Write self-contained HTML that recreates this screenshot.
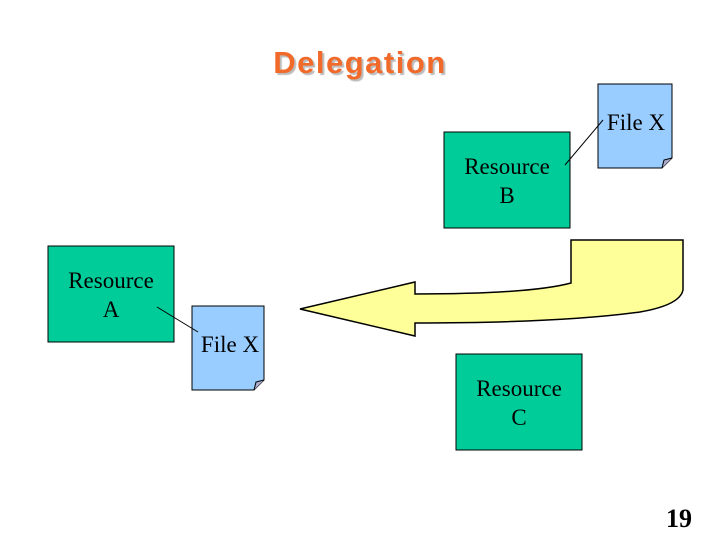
<!DOCTYPE html>
<html><head><style>
body{margin:0;width:720px;height:540px;background:#fff;position:relative;overflow:hidden;font-family:"Liberation Serif",serif}
.t{position:absolute;left:0;width:720px;text-align:center;top:45px;font:bold 31px "Liberation Sans",sans-serif;letter-spacing:1.5px;color:#f26a2a;text-shadow:2px 2px 1px #bbb}
.lbl{position:absolute;text-align:center;font-size:23px;line-height:29px;color:#000}
</style></head><body>
<div class="t">Delegation</div>
<svg width="720" height="540" style="position:absolute;left:0;top:0">
<rect x="444" y="132" width="126" height="96" fill="#00cc99" stroke="#000"/>
<rect x="48" y="246" width="126" height="96" fill="#00cc99" stroke="#000"/>
<rect x="456" y="354" width="126" height="96" fill="#00cc99" stroke="#000"/>
<path d="M598,84 H672 V158 L662,168 H598 Z" fill="#99ccff" stroke="#000"/>
<path d="M662,168 L664,160 L672,158" fill="#a9a9c9" stroke="#000"/>
<path d="M192,306 H264 V380 L254,390 H192 Z" fill="#99ccff" stroke="#000"/>
<path d="M254,390 L256,382 L264,380" fill="#a9a9c9" stroke="#000"/>
<line x1="565" y1="165" x2="603" y2="120" stroke="#000"/>
<line x1="157" y1="307" x2="198" y2="332" stroke="#000"/>
<path d="M571,240 H683 V290 Q680,305 640,312 Q560,323 415,323 V336 L300,309 L415,282 V294 Q530,294 571,283 Z" fill="#ffff99" stroke="#000" stroke-width="1.5"/>
</svg>
<div class="lbl" style="left:444px;top:152px;width:126px">Resource<br>B</div>
<div class="lbl" style="left:48px;top:266px;width:126px">Resource<br>A</div>
<div class="lbl" style="left:456px;top:374px;width:126px">Resource<br>C</div>
<div class="lbl" style="left:598px;top:108px;width:76px">File X</div>
<div class="lbl" style="left:192px;top:330px;width:76px">File X</div>
<div style="position:absolute;left:666px;top:504px;font:bold 26px 'Liberation Serif',serif">19</div>
</body></html>
